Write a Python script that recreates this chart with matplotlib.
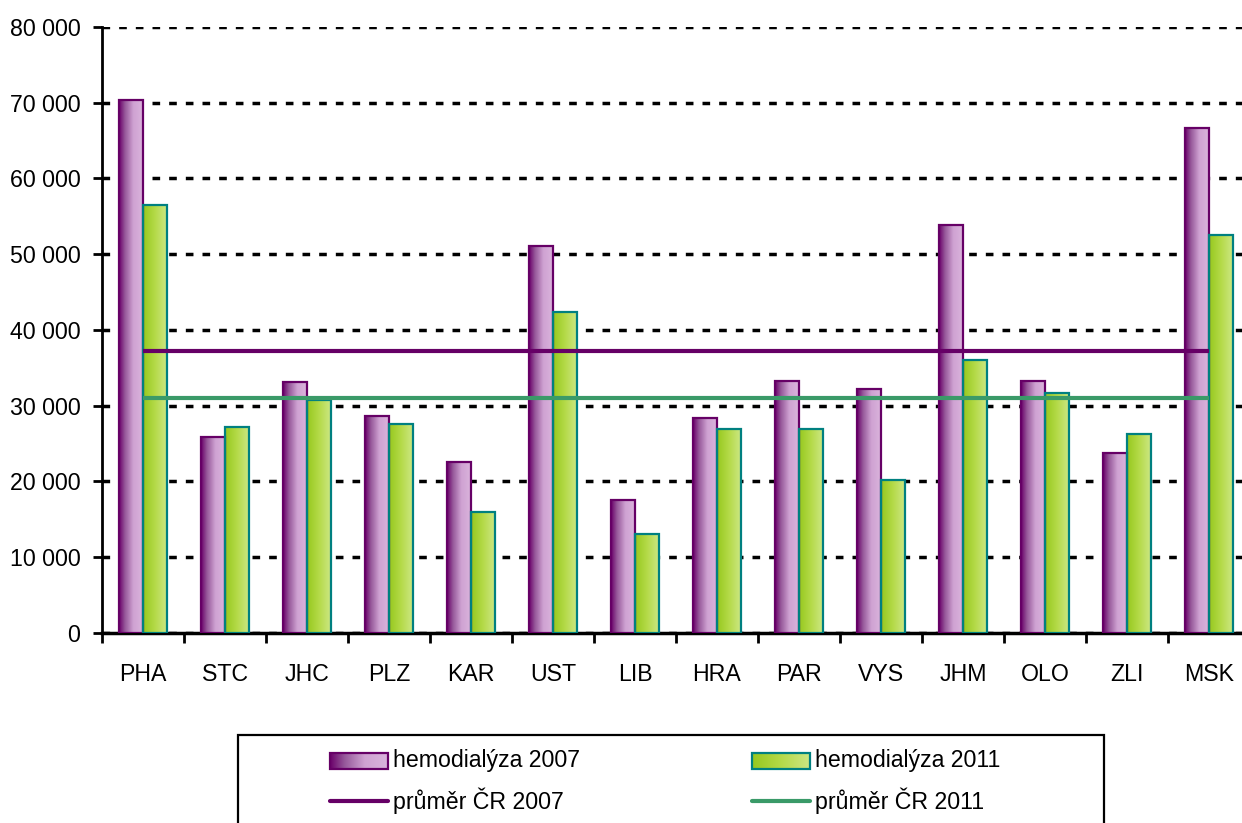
import numpy as np
import matplotlib
matplotlib.use("Agg")
import matplotlib.pyplot as plt
from matplotlib.patches import Rectangle
from matplotlib.colors import LinearSegmentedColormap
from matplotlib.ticker import FuncFormatter, MultipleLocator

categories = ["PHA", "STC", "JHC", "PLZ", "KAR", "UST", "LIB", "HRA", "PAR", "VYS", "JHM", "OLO", "ZLI", "MSK"]
hd_2007 = [70300, 25900, 33100, 28600, 22600, 51100, 17550, 28300, 33300, 32200, 53900, 33250, 23700, 66600]
hd_2011 = [56500, 27200, 30750, 27600, 16000, 42300, 13100, 26900, 26900, 20200, 36000, 31700, 26200, 52550]
avg_2007 = 37200
avg_2011 = 31000
series_labels = ["hemodialýza 2007", "hemodialýza 2011", "průměr ČR 2007", "průměr ČR 2011"]

fam = ["Liberation Sans", "DejaVu Sans"]
fs = 16.7
plt.rcParams['font.family'] = fam

W, H = 1242, 823
fig = plt.figure(figsize=(W / 100, H / 100), dpi=100)

x0_px, x1_px = 102, 102 + 14 * 82
y0_px, ytop_px = 632.7, 27
ax = fig.add_axes([x0_px / W, (H - y0_px) / H, (x1_px - x0_px) / W, (y0_px - ytop_px) / H])

purple_cmap = LinearSegmentedColormap.from_list(
    "pur", [(0.0, "#6a006a"), (0.25, "#96589a"), (0.6, "#cfa2d2"), (1.0, "#dab4dc")])
green_cmap = LinearSegmentedColormap.from_list(
    "grn", [(0.0, "#96c81e"), (0.5, "#b4da48"), (1.0, "#cde784")])
grad = np.linspace(0, 1, 256).reshape(1, -1)

bw = 0.29
x = np.arange(len(categories))

def grad_bars(xs, vals, cmap, edge):
    bars = ax.bar(xs, vals, width=bw, facecolor="none", edgecolor=edge, linewidth=1.6, zorder=4)
    for b in bars:
        bx, by = b.get_x(), b.get_y()
        ax.imshow(grad, cmap=cmap, aspect="auto", extent=(bx, bx + b.get_width(), by, by + b.get_height()),
                  zorder=3, interpolation="bilinear")
    return bars

grad_bars(x - bw / 2, hd_2007, purple_cmap, "#660066")
grad_bars(x + bw / 2, hd_2011, green_cmap, "#008080")

ax.plot([x[0], x[-1]], [avg_2007, avg_2007], color="#660066", lw=3.0, zorder=5, solid_capstyle="butt")
ax.plot([x[0], x[-1]], [avg_2011, avg_2011], color="#3a9a68", lw=3.0, zorder=5, solid_capstyle="butt")

ax.set_xlim(-0.5, len(categories) - 0.5)
ax.set_ylim(0, 80000)
ax.yaxis.set_major_locator(MultipleLocator(10000))
ax.yaxis.set_major_formatter(FuncFormatter(lambda v, p: f"{int(v):,}".replace(",", " ")))
ax.set_xticks(np.arange(-0.5, len(categories) + 0.5, 1))
ax.set_xticklabels([])
ax.set_xticks(x, minor=True)
ax.set_xticklabels(categories, minor=True)
ax.tick_params(axis="x", which="major", length=7.2, width=2, direction="out")
ax.tick_params(axis="x", which="minor", length=0, pad=22, labelsize=fs)
ax.tick_params(axis="y", length=6.5, width=2, direction="out", labelsize=fs, pad=9)

ax.grid(axis="y", color="black", linestyle=(0, (2.2, 2.6)), linewidth=2.5, zorder=1)
ax.set_axisbelow(True)
for s in ["top", "right"]:
    ax.spines[s].set_visible(False)
ax.spines["left"].set_linewidth(2)
ax.spines["bottom"].set_linewidth(2.5)

# legend in pixel coordinates
lax = fig.add_axes([0, 0, 1, 1])
lax.set_xlim(0, W)
lax.set_ylim(H, 0)
lax.axis("off")
lax.add_patch(Rectangle((237.5, 735), 866, 100, facecolor="white", edgecolor="black", lw=1.6))
rows = [761, 801]
cols = [330, 752]
lax.imshow(grad, cmap=purple_cmap, aspect="auto", extent=(cols[0], cols[0] + 58, rows[0] + 8, rows[0] - 8), zorder=3)
lax.add_patch(Rectangle((cols[0], rows[0] - 8), 58, 16, facecolor="none", edgecolor="#660066", lw=1.6, zorder=4))
lax.imshow(grad, cmap=green_cmap, aspect="auto", extent=(cols[1], cols[1] + 58, rows[0] + 8, rows[0] - 8), zorder=3)
lax.add_patch(Rectangle((cols[1], rows[0] - 8), 58, 16, facecolor="none", edgecolor="#008080", lw=1.6, zorder=4))
lax.plot([cols[0], cols[0] + 58], [rows[1], rows[1]], color="#660066", lw=3.0, solid_capstyle="round")
lax.plot([cols[1], cols[1] + 58], [rows[1], rows[1]], color="#3a9a68", lw=3.0, solid_capstyle="round")
lax.text(cols[0] + 63, rows[0], series_labels[0], fontsize=fs, va="center", ha="left")
lax.text(cols[1] + 63, rows[0], series_labels[1], fontsize=fs, va="center", ha="left")
lax.text(cols[0] + 63, rows[1], series_labels[2], fontsize=fs, va="center", ha="left")
lax.text(cols[1] + 63, rows[1], series_labels[3], fontsize=fs, va="center", ha="left")
lax.set_xlim(0, W)
lax.set_ylim(H, 0)

fig.savefig("out.png", dpi=100)
